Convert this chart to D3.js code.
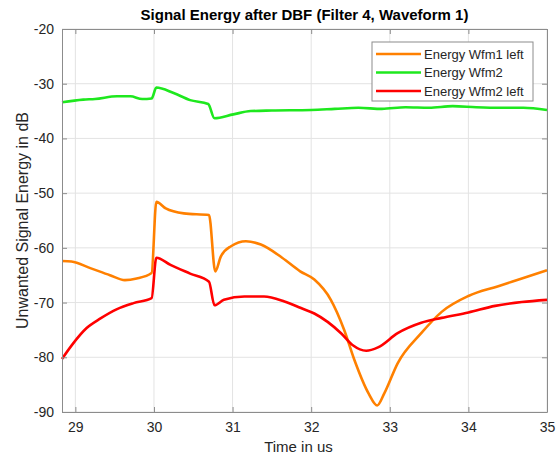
<!DOCTYPE html>
<html>
<head>
<meta charset="utf-8">
<script src="https://cdn.jsdelivr.net/npm/d3@7"></script>
<style>
  body { margin: 0; background: #fff; }
  svg { font-family: "Liberation Sans", Arial, sans-serif; }
</style>
</head>
<body>
<div id="chart"></div>
<script>
    'use strict';

    // values
    var xTicks = [29, 30, 31, 32, 33, 34, 35];
    var yTicks = [-20, -30, -40, -50, -60, -70, -80, -90];

    var wfm1LeftT = [28.83, 28.95, 29.19, 29.44, 29.63, 29.78, 29.97, 30.03, 30.15, 30.38, 30.70, 30.78, 30.85, 30.98, 31.17, 31.36, 31.63, 31.86, 32.04, 32.25, 32.42, 32.55, 32.73, 32.84, 32.93, 33.10, 33.40, 33.66, 34.00, 34.38, 34.68, 35.00];
    var wfm1LeftE = [-62.4, -62.5, -63.7, -65.0, -65.9, -65.6, -64.6, -51.6, -52.8, -53.7, -54.0, -64.3, -61.6, -59.7, -58.8, -59.4, -61.8, -64.3, -65.8, -69.5, -75.0, -80.5, -86.6, -88.8, -86.6, -81.1, -75.6, -71.7, -68.8, -67.0, -65.6, -64.1];

    var wfm2T = [28.83, 29.10, 29.25, 29.53, 29.70, 29.85, 29.97, 30.03, 30.25, 30.46, 30.69, 30.77, 31.01, 31.23, 31.50, 32.00, 32.30, 32.60, 32.90, 33.20, 33.50, 33.80, 34.10, 34.40, 34.70, 35.00];
    var wfm2E = [-33.4, -32.9, -32.8, -32.3, -32.3, -32.8, -32.7, -30.7, -31.7, -33.0, -33.7, -36.3, -35.6, -35.0, -34.9, -34.8, -34.6, -34.4, -34.6, -34.3, -34.4, -34.1, -34.3, -34.4, -34.4, -34.8];

    var wfm2LeftT = [28.83, 28.97, 29.14, 29.32, 29.53, 29.74, 29.97, 30.03, 30.21, 30.46, 30.70, 30.77, 30.89, 31.15, 31.40, 31.66, 31.87, 32.04, 32.38, 32.53, 32.70, 32.85, 33.10, 33.40, 33.66, 34.00, 34.34, 34.68, 35.00];
    var wfm2LeftE = [-80.3, -77.5, -74.7, -72.9, -71.2, -70.1, -69.2, -61.8, -63.1, -64.7, -66.2, -70.5, -69.5, -68.9, -68.9, -69.8, -71.0, -72.0, -75.6, -77.8, -78.8, -78.2, -75.6, -73.7, -72.8, -71.8, -70.6, -69.9, -69.5];

    var seriesNames = ['Energy Wfm1 left', 'Energy Wfm2', 'Energy Wfm2 left'];
    var seriesColors = ['#ff8000', '#1ee81e', '#ff0000'];

    var width = 556, height = 457;
    var margin = {top: 29, right: 9, bottom: 45, left: 62};
    var innerW = width - margin.left - margin.right;
    var innerH = height - margin.top - margin.bottom;

    var series = [
        {name: seriesNames[0], color: seriesColors[0], t: wfm1LeftT, e: wfm1LeftE},
        {name: seriesNames[1], color: seriesColors[1], t: wfm2T, e: wfm2E},
        {name: seriesNames[2], color: seriesColors[2], t: wfm2LeftT, e: wfm2LeftE}
    ];

    var svg = d3.select('#chart').append('svg')
        .attr('width', width)
        .attr('height', height);

    var x = d3.scaleLinear().domain([28.83, 35]).range([0, innerW]);
    var y = d3.scaleLinear().domain([-90, -20]).range([innerH, 0]);

    var g = svg.append('g').attr('transform', 'translate(' + margin.left + ',' + margin.top + ')');

    // grid
    g.append('g').selectAll('line.vx').data(xTicks).enter().append('line')
        .attr('x1', function(d) { return x(d); }).attr('x2', function(d) { return x(d); })
        .attr('y1', 0).attr('y2', innerH)
        .attr('stroke', '#e3e3e3').attr('stroke-width', 1);
    g.append('g').selectAll('line.hy').data(yTicks).enter().append('line')
        .attr('y1', function(d) { return y(d); }).attr('y2', function(d) { return y(d); })
        .attr('x1', 0).attr('x2', innerW)
        .attr('stroke', '#e3e3e3').attr('stroke-width', 1);

    // lines
    var line = d3.line()
        .x(function(d) { return x(d[0]); })
        .y(function(d) { return y(d[1]); })
        .curve(d3.curveMonotoneX);

    series.forEach(function(s) {
        var pts = s.t.map(function(t, i) { return [t, s.e[i]]; });
        g.append('path')
            .attr('d', line(pts))
            .attr('fill', 'none')
            .attr('stroke', s.color)
            .attr('stroke-width', 2.6)
            .attr('stroke-linejoin', 'round');
    });

    // axes with inward ticks, box on all sides
    function styleAxis(sel) {
        sel.select('.domain').attr('stroke', '#8c8c8c');
        sel.selectAll('.tick line').attr('stroke', '#8c8c8c');
        sel.selectAll('.tick text').attr('fill', '#262626').style('font-size', '14px');
    }
    var fmt = function(d) { return d; };

    g.append('g').attr('transform', 'translate(0,' + innerH + ')')
        .call(d3.axisBottom(x).tickValues(xTicks).tickFormat(fmt).tickSizeInner(-5).tickSizeOuter(0).tickPadding(10))
        .call(styleAxis);
    g.append('g')
        .call(d3.axisTop(x).tickValues(xTicks).tickFormat('').tickSizeInner(-5).tickSizeOuter(0))
        .call(styleAxis);
    g.append('g')
        .call(d3.axisLeft(y).tickValues(yTicks).tickFormat(fmt).tickSizeInner(-5).tickSizeOuter(0).tickPadding(8))
        .call(styleAxis);
    g.append('g').attr('transform', 'translate(' + innerW + ',0)')
        .call(d3.axisRight(y).tickValues(yTicks).tickFormat('').tickSizeInner(-5).tickSizeOuter(0))
        .call(styleAxis);

    // titles
    svg.append('text')
        .attr('x', margin.left + innerW / 2).attr('y', 20)
        .attr('text-anchor', 'middle')
        .style('font-size', '15px').style('font-weight', 'bold').attr('fill', '#000')
        .text('Signal Energy after DBF (Filter 4, Waveform 1)');
    svg.append('text')
        .attr('x', margin.left + innerW / 2 - 6).attr('y', 452)
        .attr('text-anchor', 'middle')
        .style('font-size', '15px').attr('fill', '#262626')
        .text('Time in us');
    svg.append('text')
        .attr('transform', 'translate(28,' + (margin.top + innerH / 2) + ') rotate(-90)')
        .attr('text-anchor', 'middle')
        .style('font-size', '16px').attr('fill', '#262626')
        .text('Unwanted Signal Energy in dB');

    // legend
    var legend = svg.append('g').attr('transform', 'translate(372,42)');
    legend.append('rect')
        .attr('width', 161).attr('height', 59)
        .attr('fill', '#fff').attr('stroke', '#8c8c8c').attr('stroke-width', 1);
    var rows = legend.selectAll('g.row').data(series).enter().append('g')
        .attr('transform', function(d, i) { return 'translate(0,' + (12 + i * 18.5) + ')'; });
    rows.append('line')
        .attr('x1', 4).attr('x2', 49).attr('y1', 0).attr('y2', 0)
        .attr('stroke', function(d) { return d.color; }).attr('stroke-width', 2.6);
    rows.append('text')
        .attr('x', 52).attr('y', 4.5)
        .style('font-size', '13px').attr('fill', '#262626')
        .text(function(d) { return d.name; });
</script>
</body>
</html>
